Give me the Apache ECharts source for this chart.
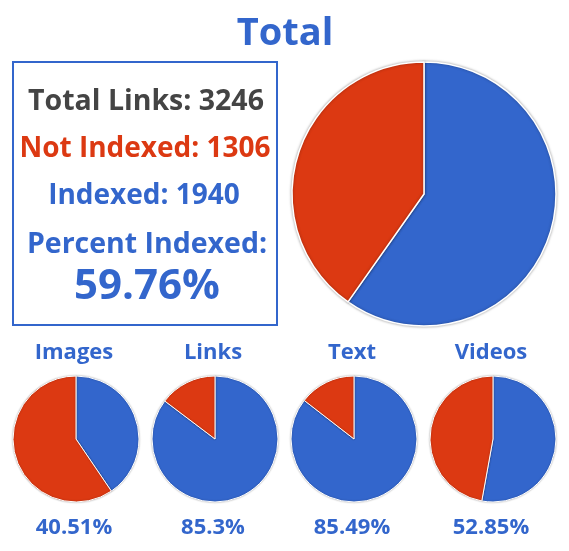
<!DOCTYPE html>
<html><head><meta charset="utf-8">
<script src="https://cdn.jsdelivr.net/npm/echarts@6/dist/echarts.min.js"></script>
<style>html,body{margin:0;padding:0;background:#fff}#c{width:569px;height:551px}</style>
</head><body><div id="c"></div>
<script>
var totalLinks = 3246;
var notIndexed = 1306;
var indexed = 1940;
var percentIndexed = '59.76%';
var sliceNames = ['Indexed', 'Not Indexed'];
var totalValues = [1940, 1306];
var categories = ['Images', 'Links', 'Text', 'Videos'];
var catIndexed = [40.51, 85.3, 85.49, 52.85];
var catNotIndexed = [59.49, 14.7, 14.51, 47.15];

var BLUE = '#3366CC', RED = '#DC3912', GRAY = '#444444';
var FONT = 'Open Sans';
var chart = echarts.init(document.getElementById('c'));

function t(text, x, y, color, size) {
  return {text: text, left: x, top: y, padding: 0, textAlign: 'center',
    textStyle: {color: color, fontSize: size, fontWeight: 'bold', fontFamily: FONT}};
}
var titles = [
  t('Total', 285, 15, BLUE, 38),
  t('Total Links: ' + totalLinks, 146, 87, GRAY, 28.5),
  t('Not Indexed: ' + notIndexed, 145, 135, RED, 28),
  t('Indexed: ' + indexed, 144, 182, BLUE, 28),
  t('Percent Indexed:', 147, 230, BLUE, 28.5),
  t(percentIndexed, 147, 266, BLUE, 42)
];
var centersX = [76, 215, 354, 493];
var series = [{
  type: 'pie', center: [424, 194], radius: 132, silent: true, startAngle: 90, clockwise: true,
  label: {show: false}, labelLine: {show: false},
  itemStyle: {borderColor: '#fff', borderWidth: 1.5, shadowBlur: 3, shadowColor: 'rgba(0,0,0,0.35)'},
  data: totalValues.map(function (v, i) { return {name: sliceNames[i], value: v, itemStyle: {color: i === 0 ? BLUE : RED}}; })
}];
categories.forEach(function (c, k) {
  titles.push(t(c, centersX[k] - 2, 342, BLUE, 22));
  titles.push(t(catIndexed[k] + '%', centersX[k] - 2, 517, BLUE, 22));
  series.push({
    type: 'pie', center: [centersX[k], 439], radius: 63, silent: true, startAngle: 90, clockwise: true,
    label: {show: false}, labelLine: {show: false},
    itemStyle: {borderColor: '#fff', borderWidth: 1, shadowBlur: 2, shadowColor: 'rgba(0,0,0,0.3)'},
    data: [{name: 'Indexed', value: catIndexed[k], itemStyle: {color: BLUE}}, {name: 'Not Indexed', value: catNotIndexed[k], itemStyle: {color: RED}}]
  });
});

chart.setOption({
  animation: false,
  title: titles,
  graphic: [{type: 'rect', shape: {x: 13, y: 62, width: 264, height: 263}, style: {fill: 'none', stroke: BLUE, lineWidth: 2}}],
  series: series
});
</script></body></html>
